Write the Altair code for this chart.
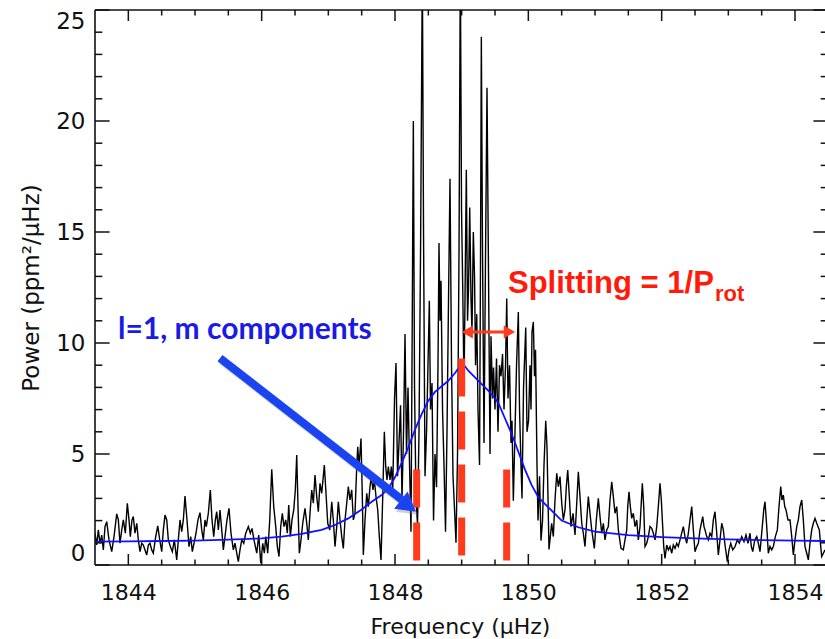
import altair as alt
import pandas as pd

X_MIN, X_MAX = 1843.5, 1854.45
Y_MIN, Y_MAX = 0, 25

SPEC_A = [(1843.500, 1.43), (1843.526, 0.90), (1843.550, 1.58), (1843.575, 0.98), (1843.601, 1.35),
          (1843.625, 0.68), (1843.650, 1.73), (1843.676, 1.95), (1843.710, 1.13), (1843.751, 0.60),
          (1843.785, 1.28), (1843.826, 2.30), (1843.850, 2.03), (1843.875, 0.98), (1843.901, 1.58),
          (1843.925, 2.03), (1843.955, 1.43), (1843.985, 2.78), (1844.010, 2.03), (1844.030, 1.28),
          (1844.055, 2.03), (1844.075, 2.18), (1844.100, 1.43), (1844.126, 1.88), (1844.150, 1.13),
          (1844.175, 0.60), (1844.201, 0.98), (1844.225, 0.90), (1844.250, 0.68), (1844.276, 0.45),
          (1844.300, 0.90), (1844.325, 0.98), (1844.351, 0.68), (1844.375, 0.53), (1844.411, 1.28),
          (1844.441, 1.76), (1844.471, 1.13), (1844.501, 0.60), (1844.525, 1.58), (1844.550, 2.25),
          (1844.576, 2.03), (1844.600, 1.13), (1844.630, 0.83), (1844.660, 0.60), (1844.690, 1.13),
          (1844.726, 0.23), (1844.750, 1.13), (1844.775, 2.03), (1844.801, 1.50), (1844.825, 2.03),
          (1844.850, 3.11), (1844.880, 2.03), (1844.910, 0.83), (1844.936, 1.28), (1844.960, 0.60),
          (1844.990, 1.05), (1845.015, 1.43), (1845.045, 2.03), (1845.075, 2.36), (1845.101, 1.58),
          (1845.125, 1.13), (1845.150, 2.03), (1845.170, 1.73), (1845.200, 2.33), (1845.230, 3.38),
          (1845.255, 2.03), (1845.281, 1.28), (1845.305, 2.03), (1845.326, 2.40), (1845.350, 1.58),
          (1845.375, 2.48), (1845.401, 1.58), (1845.425, 0.68), (1845.450, 1.28), (1845.480, 2.03),
          (1845.510, 2.55), (1845.540, 1.43), (1845.575, 0.68), (1845.600, 0.98), (1845.626, 0.53),
          (1845.650, 0.15), (1845.675, 0.68), (1845.701, 1.13), (1845.731, 0.98), (1845.761, 1.43),
          (1845.800, 1.73), (1845.830, 1.43), (1845.855, 1.65), (1845.885, 1.13), (1845.926, 0.53),
          (1845.956, 1.35), (1845.986, 0.08), (1846.016, 0.98), (1846.040, 0.53)]

SPEC_B = [(1846.062, 1.28), (1846.091, 0.53), (1846.121, 2.03), (1846.151, 4.31), (1846.181, 2.63),
          (1846.211, 1.73), (1846.235, 0.83), (1846.260, 0.38), (1846.286, 1.73), (1846.310, 2.33),
          (1846.335, 1.73), (1846.361, 2.03), (1846.385, 1.43), (1846.406, 2.70), (1846.430, 1.28),
          (1846.455, 2.03), (1846.481, 2.48), (1846.505, 3.38), (1846.526, 4.95), (1846.545, 2.63),
          (1846.565, 0.53), (1846.590, 1.13), (1846.616, 1.88), (1846.650, 2.55), (1846.676, 1.88),
          (1846.700, 1.13), (1846.725, 2.33), (1846.751, 3.38), (1846.775, 2.78), (1846.800, 4.05),
          (1846.826, 3.08), (1846.850, 2.40), (1846.875, 3.68), (1846.901, 3.23), (1846.940, 4.50),
          (1846.965, 3.23), (1846.991, 1.88), (1847.021, 1.58), (1847.051, 2.85), (1847.075, 2.03),
          (1847.100, 0.83), (1847.126, 1.73), (1847.150, 2.85), (1847.175, 2.03), (1847.201, 1.28),
          (1847.225, 0.75), (1847.250, 2.03), (1847.276, 2.78), (1847.300, 3.53), (1847.325, 2.93),
          (1847.351, 3.38), (1847.375, 2.03), (1847.400, 2.33), (1847.426, 4.43), (1847.441, 5.33),
          (1847.460, 4.43), (1847.490, 5.70), (1847.510, 3.08), (1847.525, 0.45), (1847.550, 2.03),
          (1847.576, 3.23), (1847.600, 2.63), (1847.625, 3.53), (1847.645, 3.98), (1847.670, 3.38),
          (1847.690, 3.83), (1847.715, 3.08), (1847.741, 2.48), (1847.765, 1.28), (1847.790, 0.23),
          (1847.816, 3.08), (1847.840, 6.00), (1847.861, 4.43), (1847.880, 3.83), (1847.900, 4.43),
          (1847.925, 3.83), (1847.945, 4.43), (1847.966, 3.38)]

SPEC_C = [(1847.993, 7.5), (1848.015, 9.1), (1848.038, 4.0), (1848.060, 5.5), (1848.083, 7.2),
          (1848.105, 3.0), (1848.128, 6.0), (1848.150, 10.4), (1848.173, 5.0), (1848.195, 8.0),
          (1848.218, 4.5), (1848.240, 1.5), (1848.255, 9.0), (1848.275, 20.0), (1848.293, 8.0),
          (1848.315, 3.0), (1848.338, 1.8), (1848.360, 6.0), (1848.383, 14.0), (1848.410, 27.0),
          (1848.428, 15.0), (1848.450, 4.0), (1848.473, 6.0), (1848.495, 9.0), (1848.515, 11.9),
          (1848.533, 7.0), (1848.555, 8.2), (1848.578, 2.0), (1848.600, 5.0), (1848.623, 3.5),
          (1848.645, 9.0), (1848.660, 14.5), (1848.675, 11.0), (1848.690, 12.8), (1848.713, 7.0),
          (1848.735, 4.5), (1848.758, 1.5), (1848.780, 6.0), (1848.803, 12.0), (1848.825, 17.4),
          (1848.848, 9.0), (1848.870, 4.0), (1848.893, 2.5), (1848.915, 1.0), (1848.938, 5.0),
          (1848.960, 14.0), (1848.980, 27.0), (1848.998, 16.0), (1849.016, 12.5), (1849.035, 8.0),
          (1849.050, 12.0), (1849.070, 17.8), (1849.088, 11.0), (1849.103, 12.5), (1849.121, 16.1),
          (1849.140, 12.0), (1849.155, 10.5), (1849.175, 15.0), (1849.193, 13.0), (1849.208, 9.0),
          (1849.226, 11.3), (1849.245, 7.0), (1849.268, 4.5), (1849.283, 14.0), (1849.295, 23.8),
          (1849.313, 14.0), (1849.335, 5.5), (1849.358, 14.0), (1849.380, 21.5), (1849.403, 13.0),
          (1849.425, 5.0), (1849.440, 10.3), (1849.463, 7.5), (1849.478, 8.9), (1849.500, 7.0),
          (1849.523, 9.3), (1849.545, 6.0), (1849.568, 9.0), (1849.590, 8.5), (1849.613, 9.5),
          (1849.635, 7.0), (1849.658, 9.0), (1849.676, 12.0), (1849.695, 7.5), (1849.718, 9.0),
          (1849.740, 5.5), (1849.755, 6.5), (1849.775, 2.9), (1849.800, 6.0), (1849.823, 9.0),
          (1849.850, 11.4), (1849.868, 7.0), (1849.890, 4.5), (1849.905, 3.0), (1849.928, 8.0),
          (1849.961, 10.7), (1849.980, 6.0), (1850.003, 6.5), (1850.025, 9.0), (1850.040, 7.0),
          (1850.055, 10.5), (1850.075, 10.95), (1850.093, 8.5), (1850.108, 9.7), (1850.130, 4.5),
          (1850.145, 2.0), (1850.168, 4.0), (1850.190, 1.1), (1850.213, 2.0), (1850.235, 4.5),
          (1850.261, 6.5), (1850.280, 5.3), (1850.295, 3.0), (1850.310, 0.7)]

SPEC_D = [(1850.350, 1.88), (1850.375, 1.28), (1850.400, 2.93), (1850.426, 4.13), (1850.450, 3.53),
          (1850.475, 3.98), (1850.501, 2.78), (1850.525, 2.03), (1850.550, 2.48), (1850.570, 3.53),
          (1850.591, 4.28), (1850.615, 3.08), (1850.640, 1.73), (1850.670, 2.33), (1850.700, 1.35),
          (1850.726, 2.78), (1850.750, 4.20), (1850.775, 3.08), (1850.801, 1.88), (1850.825, 1.43),
          (1850.850, 0.83), (1850.876, 2.03), (1850.900, 3.08), (1850.925, 2.33), (1850.951, 1.58),
          (1850.990, 0.75), (1851.020, 2.03), (1851.050, 3.00), (1851.075, 2.18), (1851.101, 1.43),
          (1851.125, 1.88), (1851.150, 1.13), (1851.176, 1.58), (1851.200, 1.73), (1851.225, 2.93),
          (1851.251, 3.75), (1851.275, 3.08), (1851.300, 2.33), (1851.326, 2.63), (1851.350, 1.58),
          (1851.390, 0.75), (1851.425, 0.68), (1851.450, 1.13), (1851.476, 1.58), (1851.491, 2.63),
          (1851.510, 3.30), (1851.530, 2.63), (1851.551, 2.10), (1851.575, 2.33), (1851.600, 1.73),
          (1851.626, 2.03), (1851.650, 1.13), (1851.675, 1.73), (1851.710, 3.68), (1851.731, 2.63),
          (1851.750, 0.83), (1851.776, 0.98), (1851.800, 1.28), (1851.825, 1.73), (1851.851, 1.65),
          (1851.875, 1.43), (1851.900, 1.13), (1851.926, 1.73), (1851.950, 2.63), (1851.975, 3.68),
          (1851.995, 2.93), (1852.010, 2.03), (1852.031, 0.83), (1852.050, 0.30), (1852.076, 0.90),
          (1852.100, 0.68), (1852.125, 0.83), (1852.151, 0.53), (1852.175, 0.90), (1852.200, 0.75),
          (1852.226, 0.98), (1852.250, 0.83), (1852.275, 1.13)]

SPEC_E = [(1852.325, 1.73), (1852.350, 1.28), (1852.376, 0.98), (1852.400, 1.43), (1852.425, 2.03),
          (1852.451, 2.63), (1852.475, 1.58), (1852.500, 0.60), (1852.526, 0.83), (1852.550, 0.98),
          (1852.575, 1.58), (1852.616, 2.18), (1852.635, 1.73), (1852.650, 1.58), (1852.676, 1.28),
          (1852.700, 1.13), (1852.725, 1.43), (1852.751, 1.28), (1852.775, 2.03), (1852.800, 2.40),
          (1852.826, 1.43), (1852.850, 0.45), (1852.875, 1.13), (1852.901, 1.88), (1852.925, 1.58),
          (1852.950, 0.90), (1852.985, 0.15), (1853.010, 0.68), (1853.036, 0.98), (1853.066, 0.68),
          (1853.100, 0.83), (1853.135, 1.13), (1853.165, 0.98), (1853.201, 1.28), (1853.235, 1.05),
          (1853.265, 1.35), (1853.295, 0.98), (1853.325, 1.43), (1853.345, 0.83), (1853.366, 0.60),
          (1853.396, 1.13), (1853.426, 1.28), (1853.450, 0.98), (1853.475, 0.60), (1853.505, 1.58),
          (1853.531, 2.48), (1853.550, 2.85), (1853.576, 1.73), (1853.600, 0.53), (1853.625, 0.83),
          (1853.651, 0.68), (1853.675, 0.83), (1853.705, 1.28), (1853.735, 1.58), (1853.760, 2.63),
          (1853.786, 3.53), (1853.805, 2.93), (1853.825, 3.15), (1853.846, 2.63), (1853.865, 2.48),
          (1853.895, 2.03), (1853.925, 2.03), (1853.951, 1.28), (1853.975, 0.45), (1854.000, 1.13),
          (1854.026, 1.73), (1854.050, 2.03), (1854.075, 2.63), (1854.101, 2.93), (1854.125, 2.03),
          (1854.150, 0.83), (1854.176, 0.53), (1854.200, 0.23), (1854.225, 0.98), (1854.251, 1.58),
          (1854.275, 1.88), (1854.300, 2.10), (1854.326, 1.88), (1854.365, 1.58), (1854.386, 0.83),
          (1854.401, 0.38), (1854.425, 0.53), (1854.450, 0.68)]

# Fitted model (blue)
FIT = [(1843.50, 1.05), (1844.00, 1.06), (1844.50, 1.08), (1845.00, 1.10), (1845.50, 1.14),
       (1846.00, 1.20), (1846.30, 1.28), (1846.60, 1.40), (1846.90, 1.58), (1847.10, 1.80),
       (1847.30, 2.10), (1847.50, 2.50), (1847.65, 2.85), (1847.80, 3.15), (1847.90, 3.45),
       (1848.00, 3.95), (1848.10, 4.60), (1848.20, 5.30), (1848.30, 6.10), (1848.40, 6.80),
       (1848.50, 7.40), (1848.60, 7.80), (1848.70, 8.05), (1848.80, 8.30), (1848.90, 8.65),
       (1849.00, 9.05), (1849.05, 8.95), (1849.10, 8.75), (1849.20, 8.45), (1849.30, 8.15),
       (1849.40, 7.85), (1849.50, 7.50), (1849.55, 7.30), (1849.65, 6.60), (1849.75, 5.90),
       (1849.85, 5.10), (1849.95, 4.30), (1850.05, 3.60), (1850.15, 3.05), (1850.30, 2.60),
       (1850.50, 2.00), (1850.75, 1.70), (1851.00, 1.50), (1851.50, 1.35), (1852.00, 1.26),
       (1852.50, 1.20), (1853.00, 1.15), (1853.50, 1.12), (1854.00, 1.10), (1854.45, 1.08)]

# m-component markers (red dashed)
M_FREQ = [1848.325, 1849.0, 1849.675]
M_TOP = [4.3, 9.3, 4.3]

# Axis ticks
X_MAJOR = [1844, 1846, 1848, 1850, 1852, 1854]
X_MINOR = [1844.5, 1845, 1845.5, 1846.5, 1847, 1847.5, 1848.5, 1849, 1849.5,
           1850.5, 1851, 1851.5, 1852.5, 1853, 1853.5]
Y_MAJOR = [0, 5, 10, 15, 20, 25]
Y_MINOR = [1, 2, 3, 4, 6, 7, 8, 9, 11, 12, 13, 14, 16, 17, 18, 19, 21, 22, 23, 24]

# Annotations
SPLIT_ARROW = {"f": 1849.06, "f2": 1849.74, "p": 10.5}
SPLIT_HEADS = [(1849.084, 10.5, "triangle-left"), (1849.716, 10.5, "triangle-right")]
SPLIT_TEXT = (1849.695, 12.25, "Splitting = 1/P")
SPLIT_SUB = (1852.80, 11.89, "rot")
BLUE_TEXT = (1843.845, 10.18, "l=1, m components")
BLUE_ARROW = {"f": 1845.375, "p": 9.32, "f2": 1848.10, "p2": 2.95}
BLUE_SHADOW = {"f": 1845.405, "p": 9.19, "f2": 1848.13, "p2": 2.82}
BLUE_HEAD = (1848.201, 2.66)
BLUE_HEAD_SHADOW = (1848.231, 2.53)

W, H = 730, 555
RED = "#ff3b1d"
INK = "#111111"

xs = alt.Scale(domain=[X_MIN, X_MAX], nice=False, zero=False)
ys = alt.Scale(domain=[Y_MIN, Y_MAX], nice=False, zero=False)
x_axis = alt.Axis(values=X_MAJOR, format="d", ticks=False, tickSize=0, domain=False, grid=False,
                  labelFont="DejaVu Sans", labelFontSize=22, labelColor=INK, labelPadding=17,
                  title="Frequency (μHz)", titleFont="DejaVu Sans", titleFontSize=22,
                  titleFontWeight="normal", titleColor=INK, titlePadding=13)
y_axis = alt.Axis(values=Y_MAJOR, format="d", ticks=False, tickSize=0, domain=False, grid=False,
                  labelFlush=True,
                  labelFont="DejaVu Sans", labelFontSize=23, labelColor=INK, labelPadding=10,
                  title="Power (ppm²/μHz)", titleFont="DejaVu Sans", titleFontSize=23,
                  titleFontWeight="normal", titleColor=INK, titlePadding=12)


def X(field):
    return alt.X(field, type="quantitative", scale=xs, axis=x_axis)


def Y(field):
    return alt.Y(field, type="quantitative", scale=ys, axis=y_axis)


spec = pd.DataFrame(SPEC_A + SPEC_B + SPEC_C + SPEC_D + SPEC_E, columns=["f", "p"])
fit = pd.DataFrame(FIT, columns=["f", "p"])
marks = pd.DataFrame({"f": M_FREQ, "p": M_TOP, "p0": [0.0] * len(M_FREQ)})

spectrum = alt.Chart(spec).mark_line(color="black", strokeWidth=1.4, clip=True).encode(
    x=X("f"), y=Y("p"))
model = alt.Chart(fit).mark_line(color="#1010ff", strokeWidth=1.8, clip=True).encode(
    x=X("f"), y=Y("p"))
dashes = alt.Chart(marks).mark_rule(color=RED, strokeWidth=7, strokeDash=[38, 15]).encode(
    x=X("f"), y=Y("p"), y2=alt.Y2("p0"))

sa = pd.DataFrame([SPLIT_ARROW])
split_line = alt.Chart(sa).mark_rule(color=RED, strokeWidth=3).encode(
    x=X("f"), x2=alt.X2("f2"), y=Y("p"))
heads = pd.DataFrame(SPLIT_HEADS, columns=["f", "p", "shape"])
split_heads = alt.Chart(heads).mark_point(filled=True, color=RED, size=169, opacity=1).encode(
    x=X("f"), y=Y("p"), shape=alt.Shape("shape:N", scale=None, legend=None))

st = pd.DataFrame([SPLIT_TEXT], columns=["f", "p", "t"])
split_text = alt.Chart(st).mark_text(align="left", baseline="alphabetic", font="Liberation Sans",
                                     fontWeight="bold", fontSize=31, color="#ff1a0a").encode(
    x=X("f"), y=Y("p"), text="t:N")
ss = pd.DataFrame([SPLIT_SUB], columns=["f", "p", "t"])
split_sub = alt.Chart(ss).mark_text(align="left", baseline="alphabetic", font="Liberation Sans",
                                    fontWeight="bold", fontSize=22, color="#ff1a0a").encode(
    x=X("f"), y=Y("p"), text="t:N")

bt = pd.DataFrame([BLUE_TEXT], columns=["f", "p", "t"])
blue_text = alt.Chart(bt).mark_text(align="left", baseline="alphabetic", font="Lato",
                                    fontWeight="bold", fontSize=30, color="#1a1ae6").encode(
    x=X("f"), y=Y("p"), text="t:N")

bsh = pd.DataFrame([BLUE_SHADOW])
blue_shadow = alt.Chart(bsh).mark_rule(color="#777777", strokeWidth=8, opacity=0.35).encode(
    x=X("f"), y=Y("p"), x2=alt.X2("f2"), y2=alt.Y2("p2"))
bhs = pd.DataFrame([BLUE_HEAD_SHADOW], columns=["f", "p"])
blue_head_shadow = alt.Chart(bhs).mark_point(shape="triangle-right", filled=True, color="#777777",
                                             size=484, angle=38, opacity=0.35).encode(x=X("f"), y=Y("p"))
ba = pd.DataFrame([BLUE_ARROW])
blue_line = alt.Chart(ba).mark_rule(color="#1a44f2", strokeWidth=8).encode(
    x=X("f"), y=Y("p"), x2=alt.X2("f2"), y2=alt.Y2("p2"))
bh = pd.DataFrame([BLUE_HEAD], columns=["f", "p"])
blue_head = alt.Chart(bh).mark_point(shape="triangle-right", filled=True, color="#1a44f2",
                                     size=484, angle=38, opacity=1).encode(x=X("f"), y=Y("p"))

# frame (left, bottom, top; right edge falls just outside the picture)
frame_h = alt.Chart(pd.DataFrame({"p": [Y_MIN, Y_MAX]})).mark_rule(color=INK, strokeWidth=1.6).encode(y=Y("p"))
frame_v = alt.Chart(pd.DataFrame({"f": [X_MIN]})).mark_rule(color=INK, strokeWidth=1.6).encode(x=X("f"))

xmaj = pd.DataFrame({"f": X_MAJOR})
xmin = pd.DataFrame({"f": X_MINOR})
ymaj = pd.DataFrame({"p": Y_MAJOR})
ymin = pd.DataFrame({"p": Y_MINOR})
tk = dict(color=INK, strokeWidth=1.5)
ticks = [
    alt.Chart(xmaj).mark_rule(**tk).encode(x=X("f"), y=alt.value(H), y2=alt.value(H - 11)),
    alt.Chart(xmaj).mark_rule(**tk).encode(x=X("f"), y=alt.value(0), y2=alt.value(11)),
    alt.Chart(xmin).mark_rule(**tk).encode(x=X("f"), y=alt.value(H), y2=alt.value(H - 5.5)),
    alt.Chart(xmin).mark_rule(**tk).encode(x=X("f"), y=alt.value(0), y2=alt.value(5.5)),
    alt.Chart(ymaj).mark_rule(**tk).encode(y=Y("p"), x=alt.value(0), x2=alt.value(14.6)),
    alt.Chart(ymaj).mark_rule(**tk).encode(y=Y("p"), x=alt.value(W + 3), x2=alt.value(W + 3 - 14.6)),
    alt.Chart(ymin).mark_rule(**tk).encode(y=Y("p"), x=alt.value(0), x2=alt.value(7.3)),
    alt.Chart(ymin).mark_rule(**tk).encode(y=Y("p"), x=alt.value(W + 3), x2=alt.value(W + 3 - 7.3)),
]

chart = alt.layer(
    spectrum, model, dashes, split_line, split_heads, split_text, split_sub,
    blue_text, blue_shadow, blue_head_shadow, blue_line, blue_head, frame_h, frame_v, *ticks
).properties(
    width=W, height=H,
    autosize=alt.AutoSizeParams(type="none"),
    padding={"left": 95, "top": 10, "right": 0, "bottom": 74},
    background="white",
).configure_view(stroke=None)

chart.save("out.html", embed_options={"renderer": "svg", "actions": False})
